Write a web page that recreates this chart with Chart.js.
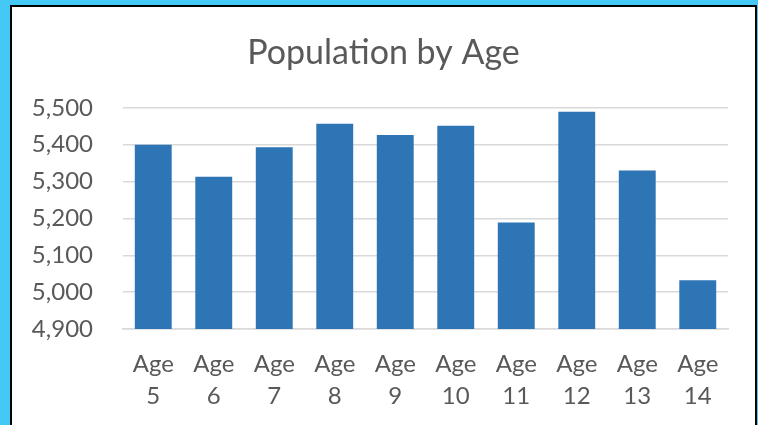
<!DOCTYPE html>
<html>
<head>
<meta charset="utf-8">
<script src="https://cdn.jsdelivr.net/npm/chart.js@4/dist/chart.umd.min.js"></script>
<style>
  html, body { margin: 0; padding: 0; }
  body { width: 758px; height: 425px; background: #44C8F5; overflow: hidden; position: relative; }
  #frame {
    position: absolute; left: 10px; top: 5px;
    width: 743px; height: 430px;
    background: #fff;
    border: 2px solid #000; border-bottom: none;
  }
  canvas { display: block; }
</style>
</head>
<body>
<div id="frame"><canvas id="myChart" width="743" height="418"></canvas></div>
<script>
// data
var ages = ["5", "6", "7", "8", "9", "10", "11", "12", "13", "14"];
var population = [5400, 5313, 5393, 5457, 5426, 5451, 5189, 5489, 5330, 5032];
var yTicks = [4900, 5000, 5100, 5200, 5300, 5400, 5500];

var labels = ages.map(function (a) { return ["Age", a]; });
var textColor = '#595959';
var gridColor = '#D9D9D9';

var ctx = document.getElementById('myChart').getContext('2d');
var chart = new Chart(ctx, {
    type: 'bar',
    data: {
        labels: labels,
        datasets: [{
            label: "Population",
            backgroundColor: '#2E75B6',
            borderWidth: 0,
            data: population,
            barPercentage: 0.61,
            categoryPercentage: 1
        }]
    },
    options: {
        responsive: false,
        animation: false,
        layout: { padding: 0 },
        plugins: {
            legend: { display: false },
            tooltip: { enabled: false },
            title: {
                display: true,
                text: 'Population by Age',
                color: textColor,
                font: { family: 'Lato', size: 34, weight: 'normal' },
                padding: { top: 26, bottom: 34 }
            }
        },
        scales: {
            x: {
                afterFit: function (scale) { scale.height = 96; },
                grid: { display: false },
                border: { display: true, color: gridColor, width: 1.5 },
                ticks: {
                    color: textColor,
                    font: { family: 'Lato', size: 24, lineHeight: 1.35 },
                    padding: 11,
                    maxRotation: 0, autoSkip: false
                }
            },
            y: {
                min: yTicks[0],
                max: yTicks[yTicks.length - 1],
                afterBuildTicks: function (scale) {
                    scale.ticks = yTicks.map(function (v) { return { value: v }; });
                },
                afterFit: function (scale) { scale.width = 111; },
                grid: { color: gridColor, lineWidth: 1.5, drawTicks: false },
                border: { display: false },
                ticks: {
                    color: textColor,
                    font: { family: 'Lato', size: 24 },
                    padding: 30,
                    callback: function (v) { return v.toLocaleString('en-US'); }
                }
            },
            // empty right-hand spacer so the title stays centred on the frame
            spacer: {
                type: 'linear',
                position: 'right',
                grid: { display: false },
                border: { display: false },
                ticks: { display: false },
                afterFit: function (scale) { scale.width = 27; }
            }
        }
    }
});
</script>
</body>
</html>
